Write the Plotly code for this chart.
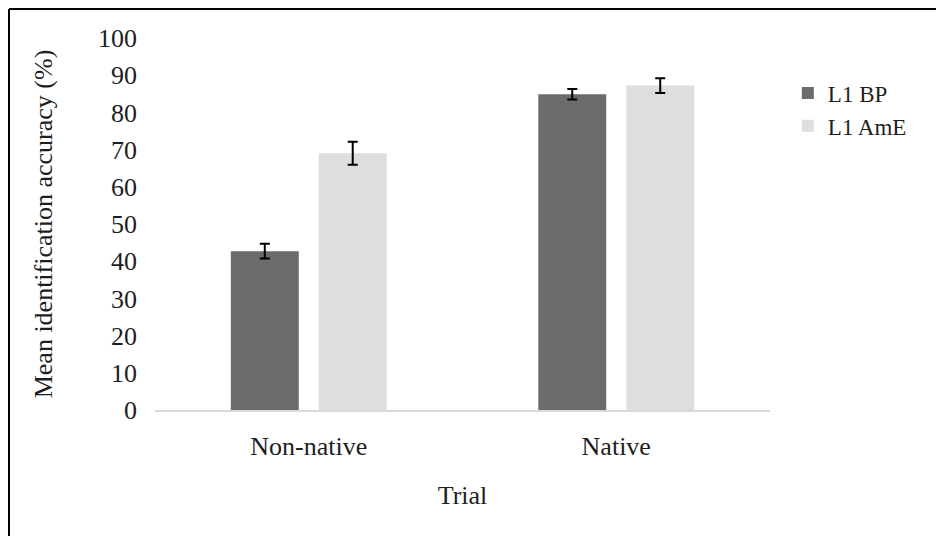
import plotly.graph_objects as go

categories = ["Non-native", "Native"]
bp_values = [42.7, 84.9]
bp_errors = [2.0, 1.4]
ame_values = [69.0, 87.2]
ame_errors = [3.1, 2.0]
series_names = ["L1 BP", "L1 AmE"]
y_ticks = list(range(0, 101, 10))

FONT = "Liberation Serif"
TXT = "#1e1e1e"
FS = 26

fig = go.Figure()
fig.add_trace(go.Bar(
    x=categories, y=bp_values, name=series_names[0],
    marker=dict(color="#6b6b6b", line=dict(width=0)),
    error_y=dict(type="data", array=bp_errors, color="black", thickness=2, width=5),
))
fig.add_trace(go.Bar(
    x=categories, y=ame_values, name=series_names[1],
    marker=dict(color="#dedede", line=dict(width=0)),
    error_y=dict(type="data", array=ame_errors, color="black", thickness=2, width=5),
))

W, H = 944, 536
L, R, T, B = 147, 182, 30, 134
pw, ph = W - L - R, H - T - B

def px2paper(px, py):
    return (px - L) / pw, (H - B - py) / ph

bx, by = px2paper(1, 1)
_, bbot = px2paper(1, H + 20)
bright, _ = px2paper(W + 20, 1)

fig.add_shape(type="line", xref="paper", yref="paper",
              x0=bx, x1=bright, y0=by, y1=by,
              line=dict(color="black", width=2))
fig.add_shape(type="line", xref="paper", yref="paper",
              x0=bx, x1=bx, y0=bbot, y1=by,
              line=dict(color="black", width=2))

fig.update_layout(
    width=W, height=H,
    margin=dict(l=L, r=R, t=T, b=B, autoexpand=False),
    paper_bgcolor="white", plot_bgcolor="white",
    barmode="group", bargap=0.428, bargroupgap=0.227,
    font=dict(family=FONT, size=FS, color=TXT),
    showlegend=True,
    legend=dict(x=1.029, y=0.91, xanchor="left", yanchor="top",
                font=dict(family=FONT, size=23, color=TXT),
                itemwidth=30, tracegroupgap=0, bgcolor="rgba(0,0,0,0)"),
    xaxis=dict(showline=True, linecolor="#d9d9d9", linewidth=1.5,
               ticks="", showgrid=False, ticklabelstandoff=12,
               tickfont=dict(family=FONT, size=FS, color=TXT),
               title=dict(text="Trial", standoff=26,
                          font=dict(family=FONT, size=FS, color=TXT)),
               automargin=False),
    yaxis=dict(range=[0, 100], tickvals=y_ticks, showgrid=False,
               zeroline=False, showline=False, ticks="",
               ticklabelstandoff=17,
               tickfont=dict(family=FONT, size=FS, color=TXT),
               title=dict(text="Mean identification accuracy (%)", standoff=37,
                          font=dict(family=FONT, size=FS, color=TXT)),
               automargin=False),
)

fig.write_html("out.html")
